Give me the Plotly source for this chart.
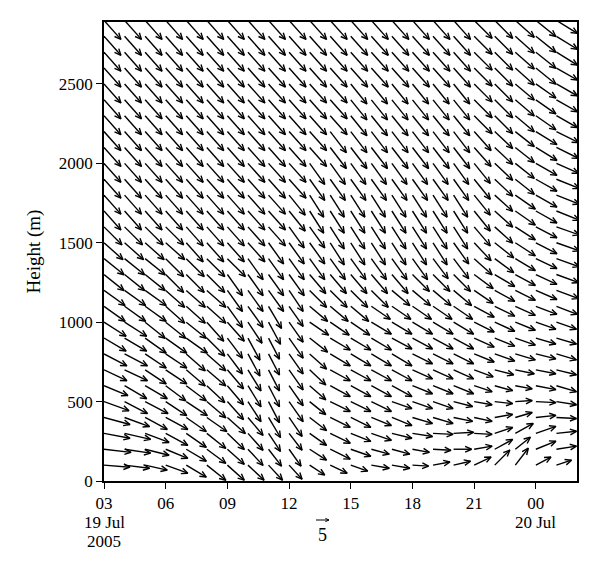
import math
import plotly.graph_objects as go

# ---------------- data ----------------
hours = [3, 4, 5, 6, 7, 8, 9, 10, 11, 12, 13, 14, 15, 16, 17, 18, 19, 20, 21, 22, 23, 24, 25]
heights = [100, 200, 300, 400, 500, 600, 700, 800, 900, 1000, 1100, 1200, 1300, 1400,
           1500, 1600, 1700, 1800, 1900, 2000, 2100, 2200, 2300, 2400, 2500, 2600,
           2700, 2800, 2900]

# eastward component u (m/s), one row per height (ascending), one value per hour
U = [
    [10.0, 9.6, 8.5, 8.5, 7.7, 7.3, 6.5, 6.2, 5.4, 5.0, 5.8, 6.5, 6.5, 6.9, 6.9, 6.2, 6.5, 6.5, 6.5, 5.8, 5.0, 5.8, 5.8],
    [10.4, 10.0, 9.2, 8.5, 7.7, 7.3, 6.5, 5.8, 5.0, 4.6, 6.5, 7.7, 7.7, 6.9, 6.9, 6.5, 6.9, 6.9, 6.9, 6.9, 5.8, 7.7, 7.7],
    [10.0, 10.0, 9.2, 8.5, 7.7, 7.3, 6.5, 5.8, 4.6, 5.0, 6.5, 7.7, 7.7, 7.7, 7.7, 7.7, 7.7, 7.7, 6.9, 6.9, 6.9, 7.7, 7.7],
    [10.0, 9.6, 8.5, 8.5, 7.7, 7.7, 6.9, 5.8, 4.6, 5.0, 6.5, 7.7, 7.7, 7.7, 7.7, 7.7, 7.7, 7.3, 6.9, 6.9, 6.5, 7.7, 7.7],
    [9.6, 8.8, 8.8, 8.1, 8.1, 7.3, 6.2, 5.0, 4.2, 5.4, 6.2, 7.7, 7.7, 7.7, 7.7, 7.7, 7.7, 7.3, 6.9, 6.9, 6.5, 7.7, 7.7],
    [9.2, 8.5, 8.5, 7.7, 7.7, 6.9, 6.2, 5.0, 4.2, 5.4, 6.2, 7.7, 7.7, 7.7, 7.7, 7.7, 7.7, 7.7, 6.9, 6.9, 6.5, 7.7, 7.7],
    [8.8, 8.8, 8.1, 8.1, 7.3, 7.3, 6.2, 5.0, 4.2, 5.4, 6.2, 7.7, 7.7, 7.7, 7.7, 7.7, 7.7, 7.7, 7.3, 7.3, 7.3, 7.7, 7.7],
    [8.8, 8.8, 8.1, 8.1, 7.3, 7.3, 5.8, 4.6, 4.2, 5.4, 6.5, 7.7, 7.7, 7.7, 7.7, 7.7, 7.7, 7.7, 7.7, 7.7, 7.7, 7.7, 7.7],
    [8.5, 8.5, 8.1, 8.1, 8.1, 6.9, 5.8, 4.6, 4.2, 5.4, 6.9, 7.7, 7.7, 7.7, 7.7, 7.7, 7.7, 7.7, 7.7, 7.7, 7.7, 7.7, 7.7],
    [8.5, 8.5, 7.7, 7.7, 7.7, 6.5, 6.5, 5.4, 4.6, 5.4, 7.3, 7.3, 7.3, 7.7, 7.7, 7.7, 7.7, 7.7, 7.7, 7.7, 7.7, 7.7, 7.7],
    [8.1, 8.1, 8.1, 7.3, 7.3, 7.3, 5.8, 5.8, 5.0, 5.4, 6.9, 6.9, 6.9, 7.3, 7.3, 7.3, 7.3, 7.3, 7.7, 7.7, 7.7, 8.1, 8.1],
    [8.1, 8.1, 8.1, 7.3, 7.3, 7.3, 5.8, 5.8, 5.8, 5.4, 6.5, 6.5, 6.5, 6.5, 6.9, 6.9, 6.9, 6.9, 7.3, 7.7, 7.7, 8.1, 8.5],
    [7.7, 7.7, 7.7, 6.9, 6.9, 6.9, 5.8, 5.8, 5.8, 5.8, 6.2, 6.2, 6.2, 6.2, 6.2, 6.5, 6.5, 6.5, 7.3, 7.7, 7.7, 8.1, 8.5],
    [7.7, 7.7, 7.7, 6.9, 6.9, 6.9, 6.9, 5.8, 5.8, 5.8, 5.8, 5.8, 5.8, 5.8, 5.8, 5.8, 5.8, 5.8, 6.9, 7.3, 7.7, 8.1, 8.8],
    [7.3, 7.3, 7.3, 7.3, 6.5, 6.5, 6.5, 6.5, 5.8, 5.8, 5.8, 5.4, 5.4, 5.4, 5.4, 5.4, 5.4, 5.8, 6.5, 7.3, 7.7, 8.1, 8.8],
    [6.9, 6.9, 6.9, 6.9, 6.5, 6.5, 6.5, 6.5, 6.5, 5.8, 5.8, 5.4, 5.4, 5.4, 5.4, 5.4, 5.4, 5.4, 6.2, 6.9, 7.7, 8.1, 8.8],
    [6.5, 6.5, 6.5, 6.5, 6.5, 6.5, 6.5, 6.5, 6.5, 6.2, 5.4, 5.4, 5.4, 5.4, 5.4, 5.4, 5.4, 5.4, 6.2, 6.9, 7.7, 8.1, 8.8],
    [6.5, 6.5, 6.5, 6.5, 6.5, 6.5, 6.5, 6.5, 6.5, 6.2, 5.4, 5.4, 5.4, 5.4, 5.4, 5.4, 5.4, 5.4, 6.2, 6.9, 7.7, 8.1, 8.8],
    [6.5, 6.5, 6.5, 6.5, 6.5, 6.5, 6.5, 6.5, 6.5, 6.5, 5.8, 5.8, 5.8, 5.8, 5.8, 5.8, 5.8, 5.8, 6.2, 6.9, 7.3, 8.1, 8.8],
    [6.5, 6.5, 6.5, 6.5, 6.5, 6.5, 6.5, 6.5, 6.5, 6.5, 5.8, 5.8, 5.8, 5.8, 5.8, 5.8, 5.8, 5.8, 6.2, 6.9, 7.3, 8.1, 8.5],
    [6.5, 6.5, 6.5, 6.5, 6.5, 6.5, 6.5, 6.5, 6.5, 6.5, 6.5, 6.2, 6.2, 6.2, 6.2, 6.2, 6.2, 6.2, 6.5, 6.9, 7.3, 8.1, 8.5],
    [6.5, 6.5, 6.5, 6.5, 6.5, 6.5, 6.5, 6.5, 6.5, 6.5, 6.5, 6.2, 6.2, 6.2, 6.2, 6.2, 6.2, 6.2, 6.5, 6.9, 7.3, 8.1, 8.5],
    [6.5, 6.5, 6.5, 6.5, 6.5, 6.5, 6.5, 6.5, 6.5, 6.5, 6.5, 6.5, 6.2, 6.2, 6.2, 6.2, 6.2, 6.2, 6.9, 6.9, 7.3, 7.7, 8.1],
    [6.5, 6.5, 6.5, 6.5, 6.5, 6.5, 6.5, 6.5, 6.5, 6.5, 6.5, 6.5, 6.2, 6.2, 6.2, 6.2, 6.2, 6.2, 6.9, 6.9, 7.3, 7.7, 8.1],
    [6.5, 6.5, 6.5, 6.5, 6.5, 6.5, 6.5, 6.5, 6.5, 6.5, 6.5, 6.5, 6.2, 6.2, 6.2, 6.2, 6.2, 6.2, 6.9, 6.9, 7.3, 7.7, 8.1],
    [6.5, 6.5, 6.5, 6.5, 6.5, 6.5, 6.5, 6.5, 6.5, 6.5, 6.5, 6.5, 6.5, 6.5, 6.5, 6.5, 6.5, 6.5, 6.9, 6.9, 7.3, 7.7, 8.1],
    [6.5, 6.5, 6.5, 6.5, 6.5, 6.5, 6.5, 6.5, 6.5, 6.5, 6.5, 6.5, 6.5, 6.5, 6.5, 6.5, 6.5, 6.5, 6.9, 6.9, 7.3, 7.7, 8.1],
    [6.5, 6.5, 6.5, 6.5, 6.5, 6.5, 6.5, 6.5, 6.5, 6.5, 6.5, 6.5, 6.5, 6.5, 6.5, 6.5, 6.5, 6.5, 6.9, 6.9, 7.3, 7.7, 8.1],
    [6.5, 6.5, 6.5, 6.5, 6.5, 6.5, 6.5, 6.5, 6.5, 6.5, 6.5, 6.5, 6.5, 6.5, 6.5, 6.5, 6.5, 6.5, 6.9, 6.9, 7.3, 7.7, 8.1],
]

# northward component v (m/s)
V = [
    [-0.8, -1.2, -1.9, -3.1, -4.6, -5.8, -5.8, -5.8, -5.8, -5.4, -3.8, -3.1, -2.3, -1.2, -1.2, -0.4, 1.2, 1.5, 3.1, 5.8, 6.5, 3.1, 1.9],
    [-1.2, -1.5, -2.3, -3.5, -4.6, -5.4, -5.8, -6.2, -6.5, -6.5, -4.2, -3.8, -2.7, -1.9, -1.9, -1.2, -0.4, 0.0, 1.2, 3.8, 4.6, 3.1, 1.2],
    [-1.9, -2.3, -3.5, -4.6, -5.4, -5.8, -6.2, -6.5, -6.9, -6.5, -4.6, -3.8, -3.1, -2.7, -1.9, -1.2, -0.4, 0.4, -0.4, 2.3, 3.8, 2.7, 0.8],
    [-2.7, -3.5, -4.6, -4.6, -5.4, -5.4, -6.2, -6.9, -7.7, -7.3, -5.0, -3.8, -3.8, -3.1, -3.1, -2.3, -2.3, -1.5, -1.5, 1.2, 1.9, 0.8, -0.4],
    [-3.5, -4.6, -4.6, -5.4, -5.4, -6.2, -6.9, -7.7, -8.1, -7.7, -5.0, -3.8, -3.8, -3.8, -2.7, -2.7, -2.7, -1.9, -1.2, -0.8, 0.4, -0.4, -1.2],
    [-3.8, -5.0, -5.0, -5.8, -5.8, -6.5, -7.3, -8.1, -8.1, -7.7, -5.4, -4.2, -4.2, -4.2, -4.2, -3.1, -3.1, -3.1, -2.3, -1.9, -1.2, -1.5, -2.3],
    [-4.2, -4.2, -5.4, -5.4, -6.2, -6.2, -7.3, -8.1, -8.1, -7.7, -5.8, -4.2, -4.2, -4.2, -4.2, -3.5, -3.5, -3.5, -2.7, -1.9, -1.5, -1.5, -1.9],
    [-4.6, -4.6, -5.4, -5.4, -6.5, -6.5, -7.7, -8.5, -8.1, -7.7, -5.8, -4.6, -4.6, -4.6, -4.6, -3.8, -3.8, -3.8, -3.1, -2.7, -2.3, -1.9, -2.3],
    [-5.0, -5.0, -5.8, -5.8, -5.8, -6.9, -7.7, -8.5, -8.1, -7.7, -5.4, -4.6, -4.6, -4.6, -4.2, -4.2, -4.2, -4.2, -3.5, -3.1, -2.7, -2.3, -2.3],
    [-5.4, -5.4, -6.2, -6.2, -6.2, -7.3, -7.3, -8.1, -8.5, -7.7, -5.0, -5.0, -5.0, -4.6, -4.6, -4.6, -4.6, -4.6, -3.8, -3.5, -3.1, -2.7, -2.7],
    [-5.8, -5.8, -5.8, -6.5, -6.5, -6.5, -8.1, -8.1, -8.5, -7.7, -5.8, -5.8, -5.8, -5.0, -5.0, -5.0, -5.0, -5.0, -4.2, -3.8, -3.5, -3.1, -3.1],
    [-5.8, -5.8, -5.8, -6.5, -6.5, -6.5, -8.1, -8.1, -8.1, -8.1, -6.5, -6.5, -6.5, -6.5, -5.8, -5.8, -5.8, -5.8, -5.0, -4.2, -3.8, -3.5, -3.1],
    [-6.2, -6.2, -6.2, -6.9, -6.9, -6.9, -8.1, -8.1, -8.1, -8.1, -7.3, -7.3, -7.3, -7.3, -7.3, -6.5, -6.5, -6.5, -5.4, -4.6, -4.2, -3.8, -3.1],
    [-6.2, -6.2, -6.2, -6.9, -6.9, -6.9, -6.9, -8.1, -8.1, -8.1, -8.1, -8.1, -8.1, -8.1, -8.1, -8.1, -7.7, -7.7, -6.2, -5.4, -4.6, -3.8, -3.1],
    [-6.5, -6.5, -6.5, -6.5, -7.3, -7.3, -7.3, -7.3, -8.1, -8.1, -8.1, -8.5, -8.5, -8.5, -8.5, -8.5, -8.5, -8.1, -6.9, -5.8, -5.0, -4.2, -3.1],
    [-6.9, -6.9, -6.9, -6.9, -7.3, -7.3, -7.3, -7.3, -7.3, -8.1, -8.1, -8.5, -8.5, -8.5, -8.5, -8.5, -8.5, -8.5, -7.3, -6.2, -5.0, -4.2, -3.1],
    [-7.3, -7.3, -7.3, -7.3, -7.3, -7.3, -7.3, -7.3, -7.3, -7.7, -8.5, -8.5, -8.5, -8.5, -8.5, -8.5, -8.5, -8.5, -7.7, -6.2, -5.4, -4.6, -3.5],
    [-7.3, -7.3, -7.3, -7.3, -7.3, -7.3, -7.3, -7.3, -7.3, -7.7, -8.5, -8.5, -8.5, -8.5, -8.5, -8.5, -8.5, -8.5, -7.7, -6.2, -5.4, -4.6, -3.5],
    [-7.3, -7.3, -7.3, -7.3, -7.3, -7.3, -7.3, -7.3, -7.3, -7.3, -8.1, -8.1, -8.1, -8.1, -8.1, -8.1, -8.1, -8.1, -7.7, -6.5, -5.8, -4.6, -3.5],
    [-7.3, -7.3, -7.3, -7.3, -7.3, -7.3, -7.3, -7.3, -7.3, -7.3, -8.1, -8.1, -8.1, -8.1, -8.1, -8.1, -8.1, -8.1, -7.7, -6.5, -5.8, -4.6, -3.8],
    [-7.3, -7.3, -7.3, -7.3, -7.3, -7.3, -7.3, -7.3, -7.3, -7.3, -7.3, -8.1, -8.1, -8.1, -8.1, -8.1, -8.1, -8.1, -7.3, -6.5, -5.8, -5.0, -4.2],
    [-7.3, -7.3, -7.3, -7.3, -7.3, -7.3, -7.3, -7.3, -7.3, -7.3, -7.3, -8.1, -8.1, -8.1, -8.1, -8.1, -8.1, -8.1, -7.3, -6.5, -5.8, -5.0, -4.2],
    [-7.3, -7.3, -7.3, -7.3, -7.3, -7.3, -7.3, -7.3, -7.3, -7.3, -7.3, -7.3, -7.7, -7.7, -7.7, -7.7, -7.7, -7.7, -6.9, -6.9, -6.2, -5.4, -4.6],
    [-7.3, -7.3, -7.3, -7.3, -7.3, -7.3, -7.3, -7.3, -7.3, -7.3, -7.3, -7.3, -7.7, -7.7, -7.7, -7.7, -7.7, -7.7, -6.9, -6.9, -6.2, -5.4, -4.6],
    [-7.3, -7.3, -7.3, -7.3, -7.3, -7.3, -7.3, -7.3, -7.3, -7.3, -7.3, -7.3, -7.7, -7.7, -7.7, -7.7, -7.7, -7.7, -6.9, -6.9, -6.2, -5.4, -4.6],
    [-7.3, -7.3, -7.3, -7.3, -7.3, -7.3, -7.3, -7.3, -7.3, -7.3, -7.3, -7.3, -7.3, -7.3, -7.3, -7.3, -7.3, -7.3, -6.9, -6.9, -6.5, -6.2, -4.6],
    [-7.3, -7.3, -7.3, -7.3, -7.3, -7.3, -7.3, -7.3, -7.3, -7.3, -7.3, -7.3, -7.3, -7.3, -7.3, -7.3, -7.3, -7.3, -6.9, -6.9, -6.5, -6.2, -5.0],
    [-7.3, -7.3, -7.3, -7.3, -7.3, -7.3, -7.3, -7.3, -7.3, -7.3, -7.3, -7.3, -7.3, -7.3, -7.3, -7.3, -7.3, -7.3, -6.9, -6.9, -6.5, -6.2, -5.0],
    [-7.3, -7.3, -7.3, -7.3, -7.3, -7.3, -7.3, -7.3, -7.3, -7.3, -7.3, -7.3, -7.3, -7.3, -7.3, -7.3, -7.3, -7.3, -6.9, -6.9, -6.5, -6.2, -5.0],
]

tick_vals = [3, 6, 9, 12, 15, 18, 21, 24]
tick_text = ["03", "06", "09", "12", "15", "18", "21", "00"]
date_labels = [(3, "19 Jul", 1), (3, "2005", 2), (24, "20 Jul", 1)]  # (hour, text, line)
y_ticks = [0, 500, 1000, 1500, 2000, 2500]
key_speed = 5

# ---------------- layout geometry ----------------
PAGE_OFF = 8                       # default body margin of the html page
W, H = 592, 562
ML, MR, MT, MB = 96, 23, 14, 89
X_RANGE = [3, 26]
Y_RANGE = [0, 2890]
pw, ph = W - ML - MR, H - MT - MB
sx = pw / (X_RANGE[1] - X_RANGE[0])   # px per hour
sy = ph / (Y_RANGE[1] - Y_RANGE[0])   # px per metre
PX_PER_MS = 2.6                        # arrow length scale (px per m/s)
HEAD_LEN = 7.0
HEAD_ANG = math.radians(24)


def arrow_px(dxp, dyp, head=HEAD_LEN):
    """barb end offsets (px, y up) relative to the arrow head"""
    L = math.hypot(dxp, dyp)
    if L == 0:
        return []
    ux, uy = dxp / L, dyp / L
    out = []
    for s in (1, -1):
        c, sn = math.cos(HEAD_ANG), math.sin(HEAD_ANG) * s
        rx = ux * c - uy * sn
        ry = ux * sn + uy * c
        out.append((-rx * head, -ry * head))
    return out


xs, ys = [], []
for i, h in enumerate(heights):
    for j, t in enumerate(hours):
        dxp = U[i][j] * PX_PER_MS
        dyp = V[i][j] * PX_PER_MS
        x1 = t + dxp / sx
        y1 = h + dyp / sy
        xs += [t, x1, None]
        ys += [h, y1, None]
        b = arrow_px(dxp, dyp)
        if b:
            xs += [x1 + b[0][0] / sx, x1, x1 + b[1][0] / sx, None]
            ys += [y1 + b[0][1] / sy, y1, y1 + b[1][1] / sy, None]

fig = go.Figure()
fig.add_trace(go.Scatter(x=xs, y=ys, mode="lines",
                         line=dict(color="black", width=1.4),
                         hoverinfo="skip", showlegend=False))

FONT = "Liberation Serif, Times New Roman, serif"


def page_to_paper(px, py):
    fx, fy = px - PAGE_OFF, py - PAGE_OFF
    return (fx - ML) / pw, (H - MB - fy) / ph


# key arrow (5 m/s) below the axis
key_len_px = key_speed * PX_PER_MS
kx1, ky = page_to_paper(329, 520)
kx0 = kx1 - key_len_px / pw
shapes = [dict(type="line", xref="paper", yref="paper", x0=kx0, y0=ky, x1=kx1, y1=ky,
               line=dict(color="black", width=1))]
for bx, by in arrow_px(key_len_px, 0, head=4):
    shapes.append(dict(type="line", xref="paper", yref="paper",
                       x0=kx1 + bx / pw, y0=ky + by / ph, x1=kx1, y1=ky,
                       line=dict(color="black", width=1)))
_, ty = page_to_paper(0, 535)

annotations = [dict(text=str(key_speed), xref="paper", yref="paper",
                    x=(kx0 + kx1) / 2, y=ty, yanchor="middle",
                    showarrow=False, font=dict(family=FONT, size=18, color="black"))]
LINE_Y = {1: 522, 2: 541}
for hx, txt, line in date_labels:
    _, yy = page_to_paper(0, LINE_Y[line])
    annotations.append(dict(text=txt, xref="x", yref="paper", x=hx, y=yy,
                            yanchor="middle", xanchor="center", showarrow=False,
                            font=dict(family=FONT, size=17, color="black")))

fig.update_layout(
    width=W, height=H,
    margin=dict(l=ML, r=MR, t=MT, b=MB, pad=0),
    paper_bgcolor="white", plot_bgcolor="white",
    font=dict(family=FONT, size=17, color="black"),
    showlegend=False,
    shapes=shapes,
    annotations=annotations,
    xaxis=dict(range=X_RANGE, tickmode="array", tickvals=tick_vals, ticktext=tick_text,
               showgrid=False, zeroline=False, showline=True, linecolor="black",
               linewidth=1.5, mirror=True, ticks="outside", ticklen=6, tickwidth=1.3,
               tickcolor="black", tickfont=dict(family=FONT, size=17)),
    yaxis=dict(range=Y_RANGE, tickmode="array", tickvals=y_ticks,
               showgrid=False, zeroline=False, showline=True, linecolor="black",
               linewidth=1.5, mirror=True, ticks="outside", ticklen=6, tickwidth=1.3,
               tickcolor="black", tickfont=dict(family=FONT, size=17),
               title=dict(text="Height (m)", font=dict(family=FONT, size=19), standoff=13)),
)

fig.write_html("out.html")
